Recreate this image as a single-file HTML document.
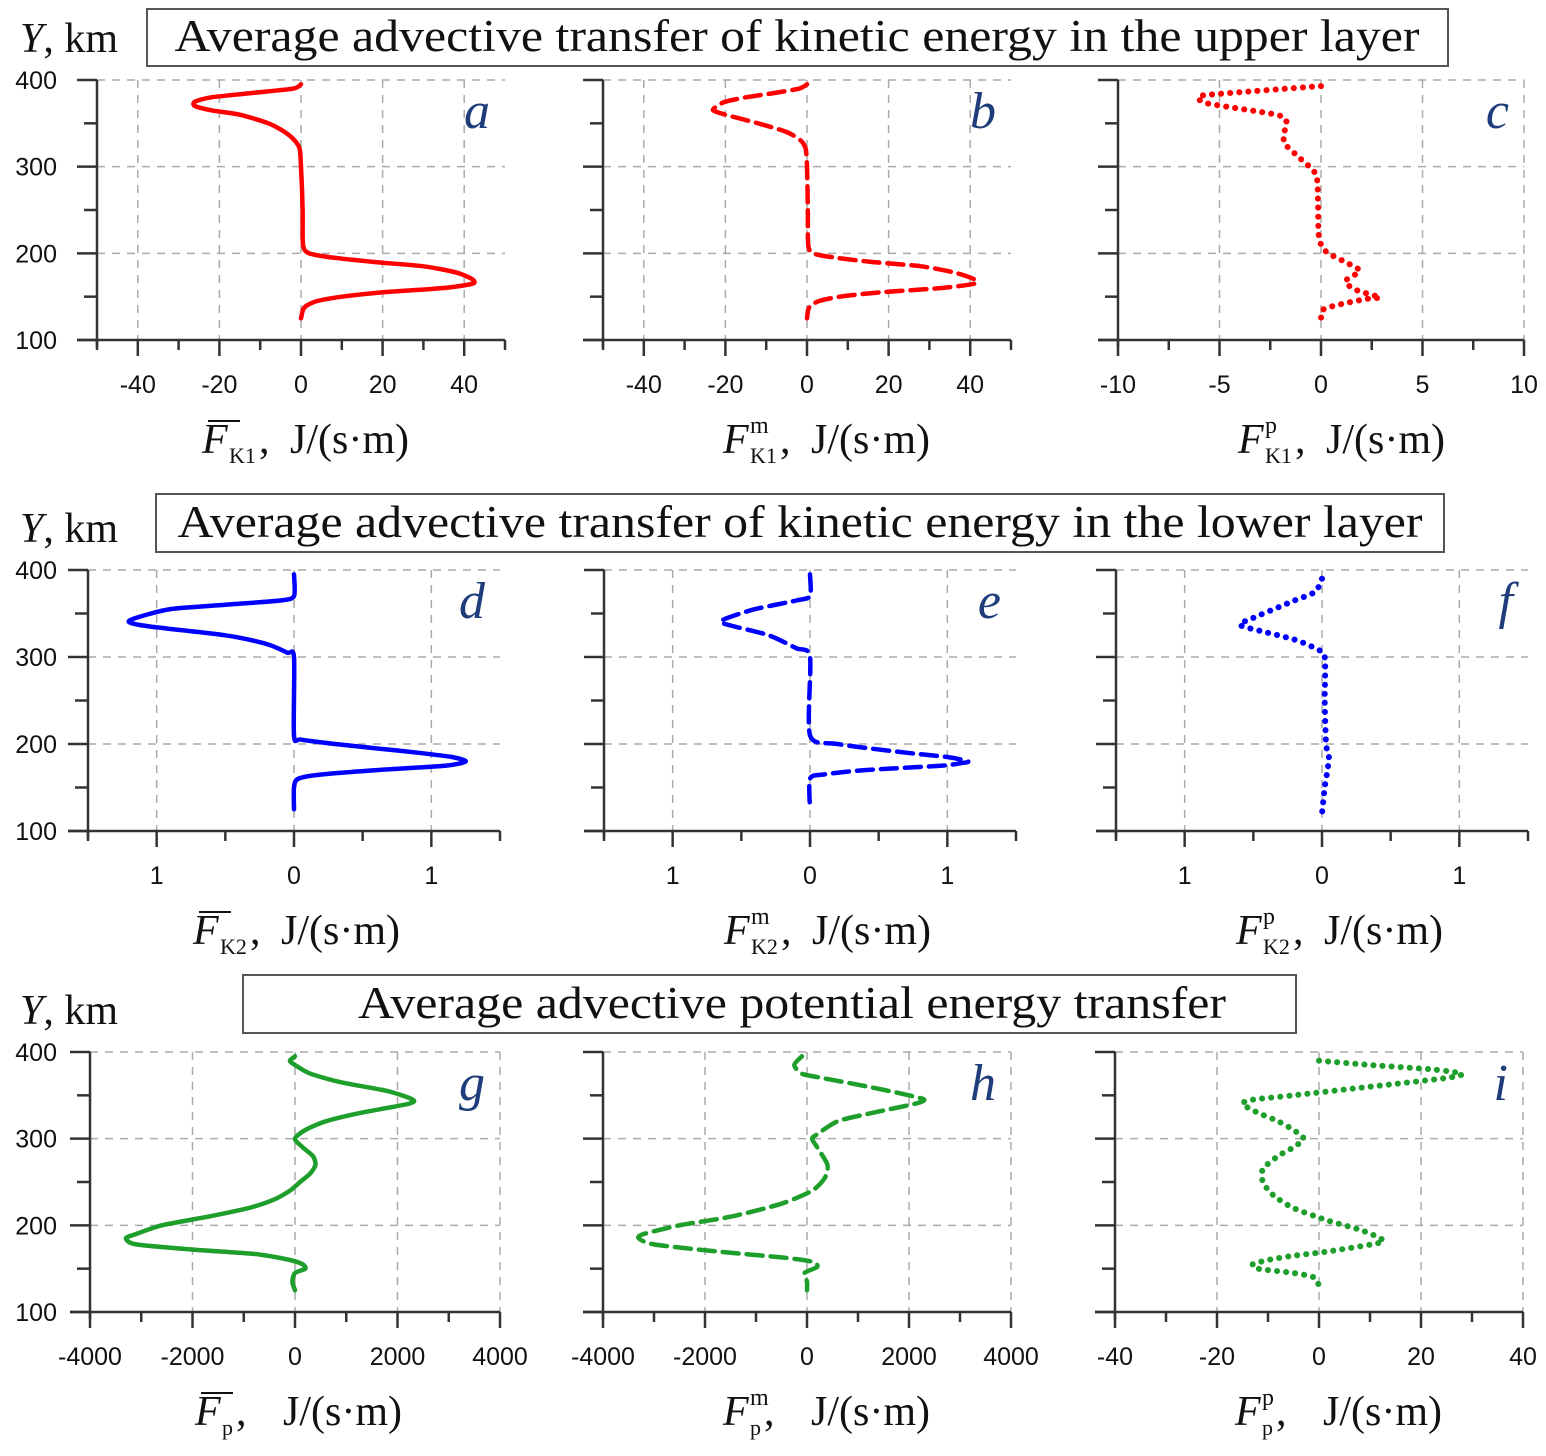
<!DOCTYPE html>
<html><head><meta charset="utf-8"><style>
html,body{margin:0;padding:0;background:#fff;}
svg{display:block;}
.tk{font-family:"Liberation Sans",sans-serif;font-size:25px;fill:#111;}
.sr{font-family:"Liberation Serif",serif;fill:#111;}
.lt{font-family:"Liberation Serif",serif;font-style:italic;font-size:52px;fill:#1f3d7a;}
</style></head><body>
<svg id="chart" width="1546" height="1456" viewBox="0 0 1546 1456" xmlns="http://www.w3.org/2000/svg">
<g id="titles">
<rect x="147" y="9" width="1301" height="57" fill="none" stroke="#555" stroke-width="2"/>
<text class="sr" x="797" y="51" font-size="45" text-anchor="middle" textLength="1245" lengthAdjust="spacingAndGlyphs">Average advective transfer of kinetic energy in the upper layer</text>
<rect x="156" y="494" width="1288" height="58" fill="none" stroke="#555" stroke-width="2"/>
<text class="sr" x="800" y="537" font-size="45" text-anchor="middle" textLength="1245" lengthAdjust="spacingAndGlyphs">Average advective transfer of kinetic energy in the lower layer</text>
<rect x="243" y="975" width="1053" height="58" fill="none" stroke="#555" stroke-width="2"/>
<text class="sr" x="792" y="1018" font-size="45" text-anchor="middle" textLength="868" lengthAdjust="spacingAndGlyphs">Average advective potential energy transfer</text>
<text class="sr" x="20" y="52" font-size="42"><tspan font-style="italic">Y</tspan>, km</text>
<text class="sr" x="20" y="542" font-size="42"><tspan font-style="italic">Y</tspan>, km</text>
<text class="sr" x="20" y="1024" font-size="42"><tspan font-style="italic">Y</tspan>, km</text>
</g>
<g id="plots"></g>
</svg>
<script>
// ---- data (Y in km, X in J/(s·m)) ----
const yA=[395,390,385,380,375,370,365,360,350,340,330,320,300,250,210,200,195,190,185,178,170,165,160,155,150,145,140,135,125];
const xA=[0,-2,-12,-22,-26,-26,-22,-15,-8,-4,-1.5,-0.3,0,0.4,0.5,2,8,18,30,38,42,42,35,20,10,4,1.5,0.5,0];
const yB=[395,390,385,380,375,370,365,360,350,340,330,320,300,250,210,200,195,190,185,178,170,165,160,155,150,145,140,135,125];
const xB=[0,-2,-8,-15,-20,-22,-23,-20,-12,-5,-1.5,-0.3,0,0.2,0.3,1.5,7,16,28,36,41,41,33,18,8,3,1,0.3,0];
const yC=[393,383,380,373,360,352,340,327,311,291,260,218,202,191,180,168,158,149,148,142,135,123];
const xC=[0,-5.5,-6,-5.6,-2.2,-1.7,-1.8,-1.8,-1.1,-0.25,-0.15,-0.1,0.25,1.1,1.9,1.2,1.7,2.9,2.4,1.1,0.1,0];
const yD=[395,370,365,360,355,345,340,335,325,315,305,300,210,205,200,195,190,185,180,175,170,165,160,150,125];
const xD=[0,0,-0.1,-0.5,-0.9,-1.15,-1.2,-1.05,-0.5,-0.2,-0.05,0,0,0.05,0.3,0.6,0.9,1.15,1.25,1.1,0.6,0.2,0.03,0,0];
const yE=[395,370,365,355,345,340,335,325,310,300,210,200,190,185,180,178,175,170,165,160,125];
const xE=[0,0,-0.1,-0.4,-0.6,-0.65,-0.55,-0.3,-0.1,0,0,0.2,0.7,1.0,1.15,1.1,0.95,0.4,0.1,0,0];
const yF=[390,375,365,355,345,337,330,320,310,300,250,200,185,170,150,120];
const xF=[0,-0.05,-0.2,-0.35,-0.5,-0.6,-0.45,-0.2,-0.05,0.02,0.02,0.03,0.05,0.04,0.02,0];
const yG=[395,390,385,375,365,355,345,340,330,320,310,300,290,280,270,260,250,240,230,220,210,200,190,185,178,172,167,160,155,150,145,135,125];
const xG=[0,-100,0,300,900,1800,2300,2200,1300,600,200,0,150,350,400,300,100,-100,-400,-900,-1700,-2600,-3100,-3300,-3100,-2000,-800,-100,150,200,0,-50,0];
const yH=[395,385,375,370,360,350,345,340,330,320,305,300,290,270,255,240,225,210,200,190,185,178,170,163,158,152,145,135,125];
const xH=[-100,-250,-100,300,1200,2000,2300,2100,1300,600,200,100,200,400,350,100,-500,-1500,-2500,-3200,-3300,-3000,-1800,-500,100,200,-50,0,0];
const yI=[390,385,380,375,370,360,350,345,340,330,320,310,300,290,280,265,250,235,220,205,195,185,180,170,165,160,155,150,145,140,130,125];
const xI=[0,10,22,28,25,10,-5,-13,-15,-12,-8,-5,-3,-5,-8,-11,-11,-9,-5,2,8,12,12,2,-5,-10,-13,-12,-5,-1,0,0];

const ticksK=[-40,-20,0,20,40];
const ticksC=[-10,-5,0,5,10];
const ticksL=[-1,0,1];
const labelsL=["1","0","1"];
const ticksP=[-4000,-2000,0,2000,4000];
const ticksI=[-40,-20,0,20,40];
const yTicks=[100,200,300,400];

const NS="http://www.w3.org/2000/svg";
const root=document.getElementById('plots');
function mk(tag,attrs,parent){const e=document.createElementNS(NS,tag);for(const k in attrs)e.setAttribute(k,attrs[k]);(parent||root).appendChild(e);return e;}
function smooth(pts){let d="M"+pts[0][0].toFixed(1)+","+pts[0][1].toFixed(1);const k=8;
 for(let i=0;i<pts.length-1;i++){const p0=pts[i-1]||pts[i],p1=pts[i],p2=pts[i+1],p3=pts[i+2]||p2;
  const c1=[p1[0]+(p2[0]-p0[0])/k,p1[1]+(p2[1]-p0[1])/k],c2=[p2[0]-(p3[0]-p1[0])/k,p2[1]-(p3[1]-p1[1])/k];
  d+=" C"+c1[0].toFixed(1)+","+c1[1].toFixed(1)+" "+c2[0].toFixed(1)+","+c2[1].toFixed(1)+" "+p2[0].toFixed(1)+","+p2[1].toFixed(1);}
 return d;}

function panel(o){
 const g=mk('g',{});
 
 
 const sx=v=>o.x0+(v-o.min)/(o.max-o.min)*(o.x1-o.x0);
 const sy=v=>o.yb-(v-100)/300*(o.yb-o.yt);
 yTicks.slice(1).forEach(t=>{const l=mk('line',{x1:o.x0,x2:o.x1,y1:sy(t),y2:sy(t),stroke:'#aaa','stroke-width':1.5,'stroke-dasharray':'8 7'},g);
  });
 o.ticks.forEach(t=>{if(Math.abs(sx(t)-o.x0)<2)return;const l=mk('line',{x1:sx(t),x2:sx(t),y1:o.yt,y2:o.yb,stroke:'#aaa','stroke-width':1.5,'stroke-dasharray':'8 7'},g);
  });
 const ax=mk('line',{x1:o.x0,x2:o.x0,y1:o.yt,y2:o.yb+7,stroke:'#333','stroke-width':2.5},g);
 
 const bx=mk('line',{x1:o.x0-20,x2:o.x1,y1:o.yb,y2:o.yb,stroke:'#333','stroke-width':2.5},g);
 
 for(let v=100;v<=400;v+=50){const maj=v%100===0;mk('line',{x1:o.x0-(maj?20:13),x2:o.x0,y1:sy(v),y2:sy(v),stroke:'#333','stroke-width':2.5},g);
  if(maj&&o.ylab){const t=mk('text',{x:57,y:sy(v)+9,'text-anchor':'end',class:'tk'},g);t.textContent=v;
   }}
 const step=o.ticks[1]-o.ticks[0];
 for(let v=o.min;v<=o.max+1e-9;v+=step/2){const maj=o.ticks.some(t=>Math.abs(t-v)<1e-6);
  mk('line',{x1:sx(v),x2:sx(v),y1:o.yb,y2:o.yb+(maj?16:10),stroke:'#333','stroke-width':2.5},g);}
 o.ticks.forEach((t,i)=>{const e=mk('text',{x:sx(t),y:o.yb+53,'text-anchor':'middle',class:'tk'},g);
  e.textContent=o.labels?o.labels[i]:t;});
 const pts=o.ys.map((y,i)=>[sx(o.xs[i]),sy(y)]);
 const p=mk('path',{d:smooth(pts),fill:'none',stroke:o.color,'stroke-width':o.style==='dot'?6:4.5,'stroke-linecap':'round','stroke-linejoin':'round'},g);
 if(o.style==='dash')p.setAttribute('stroke-dasharray','16 8');
 if(o.style==='dot')p.setAttribute('stroke-dasharray','0.1 9');
 
 const L=mk('text',{x:o.x1-15,y:o.yt+48,'text-anchor':'end',class:'lt'},g);L.textContent=o.id;
 
 // x-axis title
 const fx=o.bar?o.x0+105:o.x0+120, ty=o.yb+113;
 const T=mk('text',{y:ty,class:'sr','font-size':42},g);
 
 const sw=o.sub.length>1?28:12;
 let h='<tspan x="'+fx+'" font-style="italic">F</tspan>'+
  '<tspan x="'+(fx+27)+'" y="'+(ty+10)+'" font-size="22">'+o.sub+'</tspan>';
 if(o.sup)h+='<tspan x="'+(fx+27)+'" y="'+(ty-20)+'" font-size="24">'+o.sup+'</tspan>';
 h+='<tspan x="'+(fx+29+sw)+'" y="'+ty+'">,</tspan><tspan x="'+(fx+88)+'" y="'+ty+'">J/(s·m)</tspan>';
 T.innerHTML=h;
 if(o.bar){const b=mk('line',{x1:fx+6,x2:fx+38,y1:ty-32,y2:ty-32,stroke:'#111','stroke-width':2},g);
  }
}
const rows=[{yt:80,yb:340},{yt:570,yb:831},{yt:1052,yb:1312}];
panel({id:'a',x0:97,x1:505,min:-50,max:50,...rows[0],ticks:ticksK,ys:yA,xs:xA,color:'#f00',style:'solid',ylab:true,sub:'K1',bar:true});
panel({id:'b',x0:603,x1:1011,min:-50,max:50,...rows[0],ticks:ticksK,ys:yB,xs:xB,color:'#f00',style:'dash',sub:'K1',sup:'m'});
panel({id:'c',x0:1118,x1:1524,min:-10,max:10,...rows[0],ticks:ticksC,ys:yC,xs:xC,color:'#f00',style:'dot',sub:'K1',sup:'p'});
panel({id:'d',x0:88,x1:500,min:-1.5,max:1.5,...rows[1],ticks:ticksL,labels:labelsL,ys:yD,xs:xD,color:'#00f',style:'solid',ylab:true,sub:'K2',bar:true});
panel({id:'e',x0:604,x1:1016,min:-1.5,max:1.5,...rows[1],ticks:ticksL,labels:labelsL,ys:yE,xs:xE,color:'#00f',style:'dash',sub:'K2',sup:'m'});
panel({id:'f',x0:1116,x1:1528,min:-1.5,max:1.5,...rows[1],ticks:ticksL,labels:labelsL,ys:yF,xs:xF,color:'#00f',style:'dot',sub:'K2',sup:'p'});
panel({id:'g',x0:90,x1:500,min:-4000,max:4000,...rows[2],ticks:ticksP,ys:yG,xs:xG,color:'#1e9e2a',style:'solid',ylab:true,sub:'p',bar:true});
panel({id:'h',x0:603,x1:1011,min:-4000,max:4000,...rows[2],ticks:ticksP,ys:yH,xs:xH,color:'#1e9e2a',style:'dash',sub:'p',sup:'m'});
panel({id:'i',x0:1115,x1:1523,min:-40,max:40,...rows[2],ticks:ticksI,ys:yI,xs:xI,color:'#1e9e2a',style:'dot',sub:'p',sup:'p'});
</script>
</body></html>
